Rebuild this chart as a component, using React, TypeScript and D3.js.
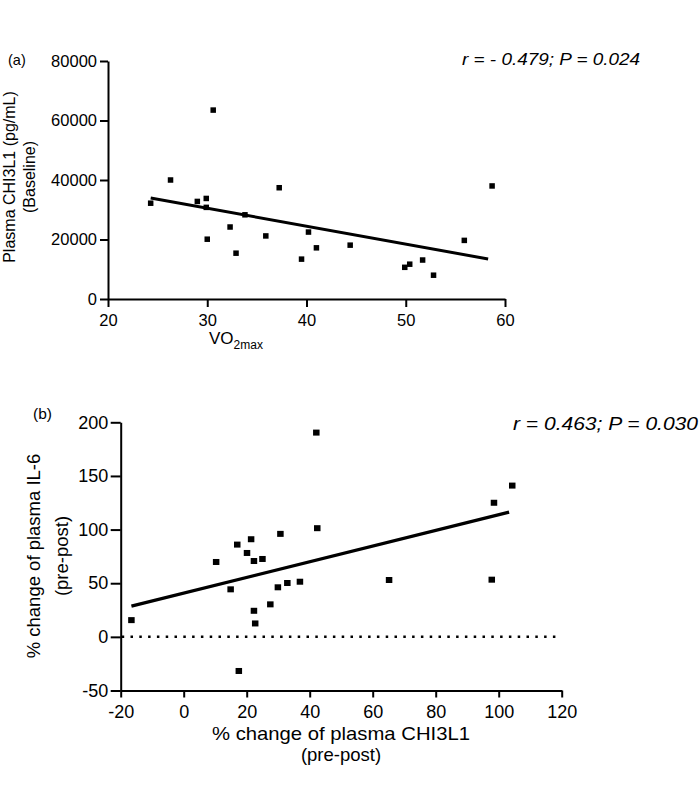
import React, { useRef, useEffect } from 'react';
import * as d3 from 'd3';

// panel (a): baseline CHI3L1 vs VO2max
const vo2max = [24.3, 26.3, 29.0, 29.9, 29.9, 30.0, 30.6, 32.3, 32.9, 33.8, 35.9, 37.25, 39.5, 40.2, 41.0, 44.4, 49.9, 50.4, 51.7, 52.8, 55.9, 58.7];
const chiBaseline = [32200, 40000, 32800, 33800, 30800, 20100, 63500, 24200, 15400, 28300, 21200, 37400, 13400, 22500, 17200, 18100, 10650, 11700, 13100, 8000, 19700, 38000];
const fitAX = [24.3, 58.3];
const fitAY = [33950, 13450];
const xTicksA = [20, 30, 40, 50, 60];
const yTicksA = [0, 20000, 40000, 60000, 80000];

// panel (b): % change IL-6 vs % change CHI3L1
const chiChange = [-16.6, 10.3, 14.9, 17.0, 17.5, 20.1, 21.4, 22.3, 22.3, 22.7, 25.0, 27.5, 29.9, 30.7, 32.9, 36.9, 42.1, 42.4, 65.2, 97.8, 98.5, 104.3];
const il6Change = [15.6, 69.8, 44.3, 86, -31.8, 78.2, 91, 70.7, 24.3, 12.5, 72.6, 30.3, 46.2, 96, 50.2, 51.4, 190.4, 101.3, 53, 53.3, 125, 141];
const fitBX = [-16.6, 103.3];
const fitBY = [28.7, 116.2];
const xTicksB = [-20, 0, 20, 40, 60, 80, 100, 120];
const yTicksB = [-50, 0, 50, 100, 150, 200];

const FONT = "'Liberation Sans', Arial, sans-serif";
const plain = (d: any) => String(d); // hyphen minus, no thousands separator

export default function App() {
  const svgRef = useRef<SVGSVGElement>(null);

  useEffect(() => {
    const svg = d3.select(svgRef.current);
    svg.selectAll("*").remove();
    svg.attr("font-family", FONT);

    const styleAxis = (g: any, size: string) => {
      g.attr("font-family", FONT);
      g.selectAll("text").attr("font-size", size).attr("fill", "#000");
      g.selectAll(".domain, .tick line").attr("stroke", "#000").attr("stroke-width", 2);
    };

    // ---------- panel (a)
    const xa = d3.scaleLinear().domain([20, 60]).range([108, 505]);
    const ya = d3.scaleLinear().domain([0, 80000]).range([299, 61]);

    const ga = svg.append("g");

    ga.append("g")
      .attr("transform", `translate(0,${ya(0)})`)
      .call(d3.axisBottom(xa).tickValues(xTicksA).tickFormat(plain).tickSize(8).tickPadding(7).tickSizeOuter(0))
      .call(g => styleAxis(g, "16.5px"));

    ga.append("g")
      .attr("transform", `translate(${xa(20)},0)`)
      .call(d3.axisLeft(ya).tickValues(yTicksA).tickFormat(plain).tickSize(8).tickPadding(3).tickSizeOuter(0))
      .call(g => styleAxis(g, "16.5px"));

    ga.append("line")
      .attr("x1", xa(fitAX[0])).attr("y1", ya(fitAY[0]))
      .attr("x2", xa(fitAX[1])).attr("y2", ya(fitAY[1]))
      .attr("stroke", "#000").attr("stroke-width", 3);

    const sa = 5.5;
    ga.append("g").selectAll("rect")
      .data(vo2max.map((v, i) => [v, chiBaseline[i]]))
      .join("rect")
      .attr("x", d => xa(d[0]) - sa / 2)
      .attr("y", d => ya(d[1]) - sa / 2)
      .attr("width", sa).attr("height", sa)
      .attr("fill", "#000");

    ga.append("text").attr("x", 8).attr("y", 65).attr("font-size", "14.5px").text("(a)");

    ga.append("text")
      .attr("x", 462).attr("y", 65)
      .attr("font-size", "16px").attr("font-style", "italic")
      .attr("textLength", 178).attr("lengthAdjust", "spacingAndGlyphs")
      .text("r = - 0.479; P = 0.024");

    const ylabA = ga.append("g").attr("transform", "translate(0,177) rotate(-90)");
    ylabA.append("text").attr("y", 15).attr("text-anchor", "middle").attr("font-size", "16px")
      .text("Plasma CHI3L1 (pg/mL)");
    ylabA.append("text").attr("y", 35).attr("text-anchor", "middle").attr("font-size", "16px")
      .text("(Baseline)");

    const xlabA = ga.append("text").attr("x", 209).attr("y", 344).attr("font-size", "17px");
    xlabA.append("tspan").text("VO");
    xlabA.append("tspan").attr("font-size", "12px").attr("dy", 5).text("2max");

    // ---------- panel (b)
    const xb = d3.scaleLinear().domain([-20, 120]).range([120.7, 561.7]);
    const yb = d3.scaleLinear().domain([-50, 200]).range([690.5, 422.3]);

    const gb = svg.append("g");

    gb.append("g")
      .attr("transform", `translate(0,${yb(-50)})`)
      .call(d3.axisBottom(xb).tickValues(xTicksB).tickFormat(plain).tickSize(7).tickPadding(8).tickSizeOuter(0))
      .call(g => styleAxis(g, "18px"));

    gb.append("g")
      .attr("transform", `translate(${xb(-20)},0)`)
      .call(d3.axisLeft(yb).tickValues(yTicksB).tickFormat(plain).tickSize(10).tickPadding(2.5).tickSizeOuter(0))
      .call(g => styleAxis(g, "18px"));

    // zero reference line
    gb.append("line")
      .attr("x1", xb(-20) + 1).attr("y1", yb(0))
      .attr("x2", xb(118)).attr("y2", yb(0))
      .attr("stroke", "#000").attr("stroke-width", 2.5)
      .attr("stroke-dasharray", "2.5 6.3");

    gb.append("line")
      .attr("x1", xb(fitBX[0])).attr("y1", yb(fitBY[0]))
      .attr("x2", xb(fitBX[1])).attr("y2", yb(fitBY[1]))
      .attr("stroke", "#000").attr("stroke-width", 3.3);

    const sbw = 6.5, sbh = 6;
    gb.append("g").selectAll("rect")
      .data(chiChange.map((v, i) => [v, il6Change[i]]))
      .join("rect")
      .attr("x", d => xb(d[0]) - sbw / 2)
      .attr("y", d => yb(d[1]) - sbh / 2)
      .attr("width", sbw).attr("height", sbh)
      .attr("fill", "#000");

    gb.append("text").attr("x", 33).attr("y", 419).attr("font-size", "15.5px").text("(b)");

    gb.append("text")
      .attr("x", 513).attr("y", 430)
      .attr("font-size", "18px").attr("font-style", "italic")
      .attr("textLength", 185).attr("lengthAdjust", "spacingAndGlyphs")
      .text("r = 0.463; P = 0.030");

    const ylabB = gb.append("g").attr("transform", "translate(0,556) rotate(-90)");
    ylabB.append("text").attr("y", 40).attr("text-anchor", "middle").attr("font-size", "18.5px")
      .text("% change of plasma IL-6");
    ylabB.append("text").attr("y", 68).attr("text-anchor", "middle").attr("font-size", "18.5px")
      .text("(pre-post)");

    gb.append("text")
      .attr("x", 341).attr("y", 740).attr("text-anchor", "middle").attr("font-size", "18.5px")
      .attr("textLength", 258).attr("lengthAdjust", "spacingAndGlyphs")
      .text("% change of plasma CHI3L1");
    gb.append("text")
      .attr("x", 341).attr("y", 761).attr("text-anchor", "middle").attr("font-size", "18.5px")
      .text("(pre-post)");
  }, []);

  return (
    <svg
      ref={svgRef}
      width={700}
      height={787}
      style={{ position: "absolute", left: 0, top: 0, background: "white" }}
    />
  );
}
